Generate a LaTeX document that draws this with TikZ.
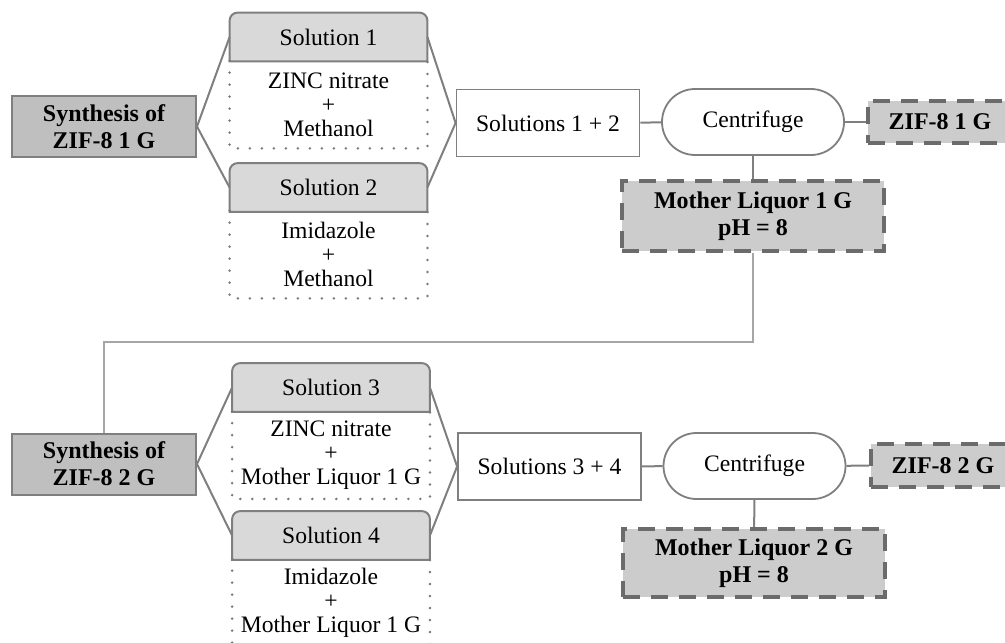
\documentclass[tikz,border=0pt]{standalone}
\usepackage{fontspec}
\setmainfont{Liberation Serif}
\usetikzlibrary{backgrounds}

\definecolor{edgegray}{HTML}{7F7F7F}
\definecolor{dashgray}{HTML}{6B6B6B}
\definecolor{dotgray}{HTML}{7A7A7A}
\definecolor{linkgray}{HTML}{A6A6A6}
\definecolor{synthfill}{HTML}{BFBFBF}
\definecolor{hdrfill}{HTML}{D9D9D9}
\definecolor{outfill}{HTML}{CCCCCC}

\begin{document}
\begin{tikzpicture}[x=0.5pt,y=-0.5pt,
    every node/.style={font=\fontsize{11.8}{12}\selectfont, inner sep=0pt, align=center},
    synthbox/.style={draw=edgegray, line width=1pt, fill=synthfill, minimum width=92pt, minimum height=30.5pt,
        font=\fontsize{12}{13.5}\selectfont\bfseries},
    header/.style={minimum width=98.5pt, minimum height=24pt},
    hdrline/.style={draw=edgegray, line width=1pt, fill=hdrfill},
    mixbox/.style={minimum width=98.5pt, minimum height=43.5pt},
    dotline/.style={draw=dotgray, line width=1.4pt, line cap=round, dash pattern=on 0pt off 6pt},
    sumbox/.style={draw=edgegray, line width=0.9pt, fill=white, minimum width=91.5pt, minimum height=33.5pt},
    spinbox/.style={draw=edgegray, line width=0.9pt, fill=white, rounded corners=16.5pt, minimum width=91pt, minimum height=33pt},
    outbox/.style={draw=dashgray, line width=1.8pt, dash pattern=on 8.5pt off 5.5pt, fill=outfill,
        font=\fontsize{12}{13.5}\selectfont\bfseries},
    link/.style={draw=edgegray, line width=1pt},
    thinlink/.style={draw=linkgray, line width=0.7pt}]
  \useasboundingbox (0,0) rectangle (1005,642);

  % first generation
  \node[synthbox] (synth1) at (104,126.5) {Synthesis of\\ZIF-8 1 G};
  \node[header] (sol1) at (328.5,37) {Solution 1};
  \node[mixbox] (mix1) at (328.5,104.5) {ZINC nitrate\\+\\Methanol};
  \node[header] (sol2) at (328.5,187.5) {Solution 2};
  \node[mixbox] (mix2) at (328.5,254.5) {Imidazole\\+\\Methanol};
  \node[sumbox] (sum1) at (548,123) {Solutions 1 + 2};
  \node[spinbox] (cen1) at (753,122) {Centrifuge};
  \node[outbox, minimum width=72pt, minimum height=21pt] (zif1) at (940,122) {ZIF-8 1 G};
  \node[outbox, minimum width=131pt, minimum height=35pt] (ml1) at (753,216) {Mother Liquor 1 G\\pH = 8};

  % second generation
  \node[synthbox] (synth2) at (104,464) {Synthesis of\\ZIF-8 2 G};
  \node[header] (sol3) at (331,387.5) {Solution 3};
  \node[mixbox] (mix3) at (331,455) {ZINC nitrate\\+\\Mother Liquor 1 G};
  \node[header] (sol4) at (331,535.5) {Solution 4};
  \node[mixbox] (mix4) at (331,602.5) {Imidazole\\+\\Mother Liquor 1 G};
  \node[sumbox] (sum2) at (549.5,466.5) {Solutions 3 + 4};
  \node[spinbox] (cen2) at (754.5,466) {Centrifuge};
  \node[outbox, minimum width=72pt, minimum height=21.5pt] (zif2) at (943,465.5) {ZIF-8 2 G};
  \node[outbox, minimum width=131pt, minimum height=34pt] (ml2) at (754,563) {Mother Liquor 2 G\\pH = 8};

  \begin{scope}[on background layer]
    \foreach \s in {sol1,sol2,sol3,sol4}
      \filldraw[hdrline] (\s.south west) -- ([yshift=-4pt]\s.north west)
        arc[start angle=180, end angle=90, radius=4pt] -- ([xshift=-4pt]\s.north east)
        arc[start angle=90, end angle=0, radius=4pt] -- (\s.south east) -- cycle;
  \end{scope}
  \foreach \m in {mix1,mix2,mix3,mix4}
    \draw[dotline] (\m.north west) -- (\m.south west) -- (\m.south east) -- (\m.north east);

  \draw[link] (synth1.east) -- (sol1.west);
  \draw[link] (synth1.east) -- (sol2.west);
  \draw[link] (sol1.east) -- (sum1.west);
  \draw[link] (sol2.east) -- (sum1.west);
  \draw[link] (sum1) -- (cen1);
  \draw[link] (cen1) -- (zif1);
  \draw[link] (cen1) -- (ml1);

  \coordinate (turn) at (753,342);
  \draw[thinlink] (ml1.south) -- (turn) -| (synth2.north);

  \draw[link] (synth2.east) -- (sol3.west);
  \draw[link] (synth2.east) -- (sol4.west);
  \draw[link] (sol3.east) -- (sum2.west);
  \draw[link] (sol4.east) -- (sum2.west);
  \draw[link] (sum2) -- (cen2);
  \draw[link] (cen2) -- (zif2);
  \draw[link] (cen2) -- (ml2);
\end{tikzpicture}
\end{document}
